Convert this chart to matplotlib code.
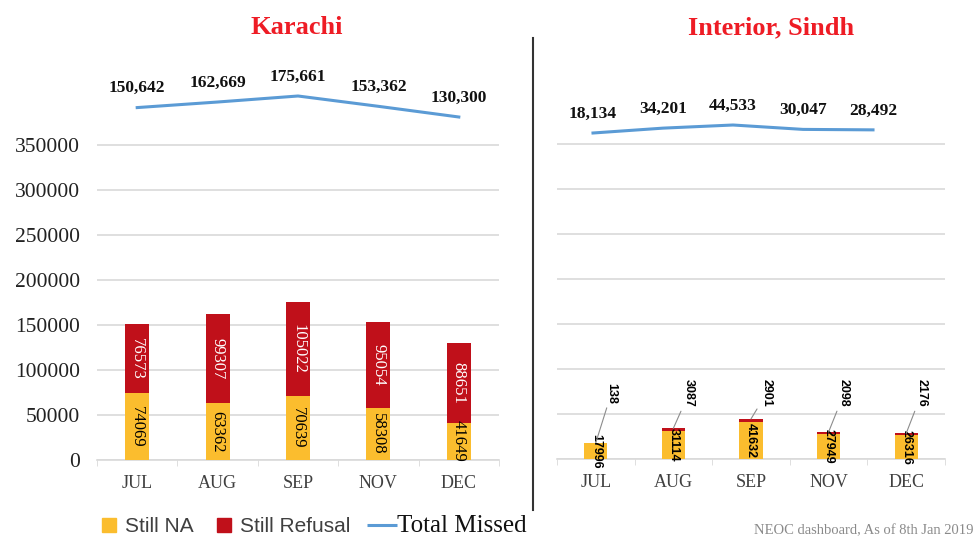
import matplotlib
matplotlib.use("Agg")
import matplotlib.pyplot as plt
from matplotlib.lines import Line2D
import numpy as np

months = ["JUL", "AUG", "SEP", "NOV", "DEC"]

karachi_na = [74069, 63362, 70639, 58308, 41649]
karachi_refusal = [76573, 99307, 105022, 95054, 88651]
karachi_total = [150642, 162669, 175661, 153362, 130300]

sindh_na = [17996, 31114, 41632, 27949, 26316]
sindh_refusal = [138, 3087, 2901, 2098, 2176]
sindh_total = [18134, 34201, 44533, 30047, 28492]

yticks = [0, 50000, 100000, 150000, 200000, 250000, 300000, 350000]

YELLOW = "#FBBD2E"
RED = "#C0101A"
BLUE = "#5B9BD5"
GRID = "#D9D9D9"
TXT = "#404040"
SERIF = "Liberation Serif"
SANS = "Liberation Sans"

W, H = 976, 540


def box(left, bottom, width, height):
    # pixel box -> figure fraction
    return [left / W, 1 - bottom / H, width / W, height / H]


def bar_panel(ax, na, refusal, show_yticks):
    x = np.arange(len(months))
    ax.bar(x, na, width=0.3, color=YELLOW, zorder=3)
    ax.bar(x, refusal, width=0.3, bottom=na, color=RED, zorder=3)
    ax.set_xlim(-0.5, len(months) - 0.5)
    ax.set_ylim(0, 420000)
    ax.set_yticks(yticks)
    ax.grid(axis="y", color=GRID, lw=1.2, zorder=0)
    for s in ["top", "right", "left"]:
        ax.spines[s].set_visible(False)
    ax.spines["bottom"].set_color(GRID)
    ax.spines["bottom"].set_linewidth(1.2)
    ax.set_xticks(x)
    ax.set_xticklabels(months, fontsize=13, family=SERIF, color=TXT)
    ax.set_xticks(np.arange(-0.5, len(months)), minor=True)
    ax.tick_params(axis="x", which="major", length=0, pad=11)
    ax.tick_params(axis="x", which="minor", length=4, color=GRID)
    ax.tick_params(axis="y", length=0, pad=12)
    if show_yticks:
        for lab in ax.get_yticklabels():
            lab.set_fontsize(15.5)
            lab.set_family(SERIF)
            lab.set_color("#222222")
    else:
        ax.set_yticklabels([])
    ax.patch.set_alpha(0)
    return x


def line_panel(rect, totals, ylim):
    lx = fig.add_axes(rect)
    lx.set_xlim(-0.5, len(totals) - 0.5)
    lx.set_ylim(*ylim)
    lx.axis("off")
    xs = np.arange(len(totals))
    lx.plot(xs, totals, color=BLUE, lw=2.2, clip_on=False)
    for i, v in zip(xs, totals):
        lx.annotate(f"{v:,}", (i, v), xytext=(0, 14), textcoords="offset points",
                    ha="center", va="center", fontsize=12.5, fontweight="bold",
                    family=SERIF, color="#111111", annotation_clip=False)


fig = plt.figure(figsize=(9.76, 5.4), dpi=100)

# Karachi
ax1 = fig.add_axes(box(97, 460, 402, 378))
x = bar_panel(ax1, karachi_na, karachi_refusal, True)
for i in x:
    ax1.text(i, karachi_na[i] / 2, str(karachi_na[i]), rotation=-90, ha="center",
             va="center", fontsize=12, family=SERIF, color="black", zorder=4)
    ax1.text(i, karachi_na[i] + karachi_refusal[i] / 2, str(karachi_refusal[i]),
             rotation=-90, ha="center", va="center", fontsize=12, family=SERIF,
             color="white", zorder=4)
line_panel(box(97, 460, 402, 378), karachi_total, (-610600, 205900))

# Interior Sindh
ax2 = fig.add_axes(box(557, 459, 388, 378))
x = bar_panel(ax2, sindh_na, sindh_refusal, False)
for i in x:
    ax2.text(i, sindh_na[i] / 2, str(sindh_na[i]), rotation=-90, ha="center",
             va="center", fontsize=9, fontweight="bold", family=SANS,
             color="black", zorder=4)
    ax2.annotate(str(sindh_refusal[i]), (i, sindh_na[i] + sindh_refusal[i]),
                 xytext=(i + 0.2, 73000), textcoords="data", rotation=-90,
                 ha="center", va="center", fontsize=9, fontweight="bold",
                 family=SANS, color="black", zorder=4,
                 arrowprops=dict(arrowstyle="-", color="#8c8c8c", lw=0.8,
                                 shrinkA=1, shrinkB=0))
line_panel(box(558, 460, 350, 378), sindh_total, (-1060950, 186450))

# titles
fig.text(297 / W, 1 - 28 / H, "Karachi", color="#EE1C25", fontsize=19,
         fontweight="bold", family=SERIF, ha="center", va="center")
fig.text(771 / W, 1 - 28 / H, "Interior, Sindh", color="#EE1C25", fontsize=19,
         fontweight="bold", family=SERIF, ha="center", va="center")

# separator
fig.add_artist(Line2D([533 / W, 533 / W], [1 - 38 / H, 1 - 510 / H],
                      color="#333333", lw=1.5))

# legend
handles = [
    Line2D([], [], marker="s", color=YELLOW, ls="none", markersize=9.5),
    Line2D([], [], marker="s", color=RED, ls="none", markersize=9.5),
    Line2D([], [], marker="_", color=BLUE, ls="none", markersize=22,
           markeredgewidth=2.2),
]
leg = fig.legend(handles, ["Still NA", "Still Refusal", "Total Missed"],
                 loc="center left", bbox_to_anchor=(86 / W, 1 - 526 / H),
                 ncol=3, frameon=False, handlelength=1.2, handletextpad=0.15,
                 columnspacing=0.9, borderpad=0,
                 prop={"family": SANS, "size": 15})
for t in leg.get_texts()[:2]:
    t.set_color(TXT)
leg.get_texts()[2].set_fontfamily(SERIF)
leg.get_texts()[2].set_fontsize(18)
leg.get_texts()[2].set_color("#111111")

fig.text(973 / W, 1 - 531 / H, "NEOC dashboard, As of 8th Jan 2019",
         ha="right", va="center", fontsize=10.5, family=SERIF, color="#8a8a8a")

fig.savefig("out.png", dpi=100)
